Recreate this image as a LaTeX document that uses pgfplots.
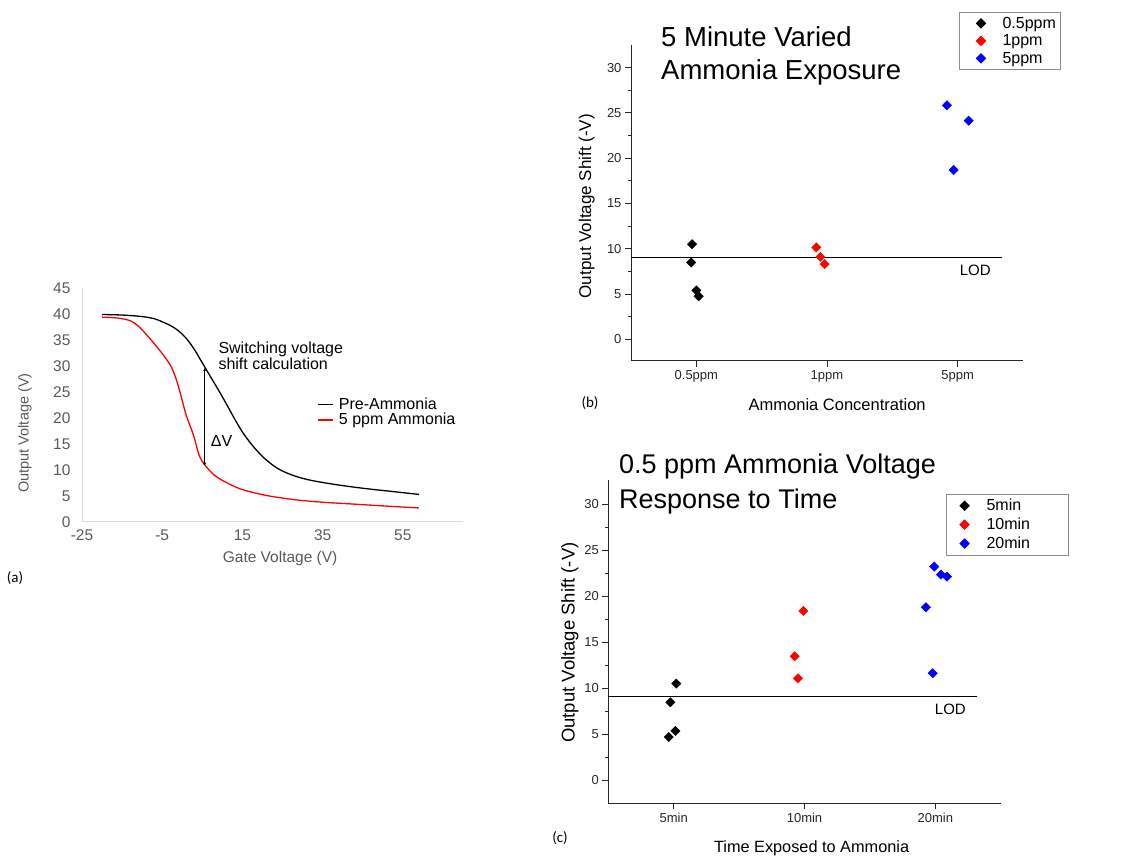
\documentclass[border=0pt]{standalone}
\usepackage{fontspec}
\setmainfont{Liberation Sans}
\newfontfamily\carlito{Carlito}
\usepackage{pgfplots}
\pgfplotsset{compat=1.18}
\usetikzlibrary{arrows.meta}
\definecolor{axgray}{HTML}{D9D9D9}
\definecolor{txtgray}{HTML}{595959}
\definecolor{myred}{HTML}{FF0000}
\definecolor{myblue}{HTML}{0000FF}
\pgfplotsset{
  scat/.style={
    scale only axis, anchor=south west,
    xmin=-0.5, xmax=2.5,
    axis x line*=bottom, axis y line*=left,
    axis line style={-, line width=1pt, black!85},
    xtick={0,1,2},
    ytick={0,5,10,15,20,25,30}, yticklabels={0,5,10,15,20,25,30},
    minor y tick num=1,
    tick align=outside, major tick length=6pt, minor tick length=3.5pt,
    every tick/.style={black!85, line width=0.8pt},
    tick label style={font=\fontsize{13}{15}\selectfont, text=black!85},
    clip=false,
    legend cell align=left,
  },
  dia/.style={only marks, mark=square*, mark size=3.3pt, mark options={rotate=45, draw=#1, fill=#1}},
}
\begin{document}
\begin{tikzpicture}[x=1pt,y=1pt]
\useasboundingbox (0pt,0pt) rectangle (1144pt,867pt);

% ---------------- panel (a) ----------------
\begin{axis}[
  at={(82pt,345pt)}, anchor=south west, scale only axis,
  width=381pt, height=234pt,
  xmin=-25, xmax=70, ymin=0, ymax=45,
  axis x line*=bottom, axis y line*=left,
  axis line style={-, axgray, line width=1pt},
  xtick={-25,-5,15,35,55}, xticklabels={-25,-5,15,35,55},
  ytick={0,5,10,15,20,25,30,35,40,45}, yticklabels={0,5,10,15,20,25,30,35,40,45},
  major tick length=0pt,
  tick label style={font=\fontsize{15.5}{17}\selectfont, text=txtgray},
  yticklabel style={xshift=-8pt},
  xticklabel style={yshift=-4pt},
  xlabel={Gate Voltage (V)},
  xlabel style={at={(axis description cs:0.52,-0.154)}, anchor=center, font=\fontsize{15.5}{17}\selectfont, text=txtgray},
  ylabel={Output Voltage (V)},
  ylabel style={at={(axis description cs:-0.15,0.38)}, anchor=center, font=\fontsize{14.5}{17}\selectfont, text=txtgray},
  legend style={draw=none, fill=none, at={(axis description cs:0.617,0.534)}, anchor=north west,
    font=\fontsize{16}{18}\selectfont, inner sep=0pt, nodes={inner xsep=2pt, inner ysep=1pt}},
  legend cell align=left,
  legend image code/.code={\draw[#1, line width=1.3pt] (0pt,0pt) -- (15pt,0pt); \path[draw=none,fill=none] (0pt,0pt) -- (19pt,0pt);},
  clip=false,
]
\addplot[black, line width=1.3pt, smooth, tension=0.6] coordinates {
(-20,39.9)(-15,39.8)(-10,39.5)(-7,39.1)(-5,38.5)(-3,37.8)(-1,36.8)(1,35.3)(3,33.2)(5,30.6)(7,28.0)(9,25.4)(11,22.7)(13,19.9)(15,17.3)(17,15.2)(19,13.4)(21,11.9)(24,10.2)(27.5,9.0)(31,8.2)(35,7.6)(40,7.0)(46,6.4)(52,5.9)(59,5.3)};
\addlegendentry{Pre-Ammonia}
\addplot[myred, line width=1.3pt, smooth, tension=0.6] coordinates {
(-20,39.4)(-16,39.2)(-13,38.7)(-11,37.7)(-9,36.1)(-7,34.3)(-5,32.4)(-3,30.2)(-2,28.5)(-1,26.2)(0,23.3)(1,20.5)(2,18.4)(3,16.2)(4,13.3)(5,11.6)(6,10.6)(8,9.0)(10,8.0)(12,7.2)(14.3,6.4)(17,5.8)(21,5.1)(25,4.6)(29,4.2)(35,3.8)(41.5,3.5)(50,3.1)(59,2.7)};
\addlegendentry{5 ppm Ammonia}
\draw[black, line width=1pt, {Stealth[length=3pt,width=3pt]}-{Stealth[length=3pt,width=3pt]}] (axis cs:5.6,29.6) -- (axis cs:5.6,10.9);
\end{axis}
\node[anchor=base west, font=\fontsize{16}{17}\selectfont, inner sep=0pt] at (218.3pt,513.7pt) {Switching voltage};
\node[anchor=base west, font=\fontsize{16}{17}\selectfont, inner sep=0pt] at (218.3pt,497pt) {shift calculation};
\node[anchor=base west, font=\fontsize{16}{17}\selectfont, inner sep=0pt] at (210.7pt,420.3pt) {ΔV};
\node[anchor=center, font=\carlito\fontsize{15}{17}\selectfont, inner sep=0pt] at (15pt,289pt) {(a)};

% ---------------- panel (b) ----------------
\begin{axis}[scat,
  at={(631pt,506pt)}, width=392pt, height=316pt,
  ymin=-2.4, ymax=32.5,
  xticklabels={0.5ppm,1ppm,5ppm},
  xlabel={Ammonia Concentration},
  xlabel style={at={(axis description cs:0.526,-0.139)}, anchor=center, font=\fontsize{16.5}{18}\selectfont},
  ylabel={Output Voltage Shift (-V)},
  ylabel style={at={(axis description cs:-0.113,0.49)}, anchor=center, font=\fontsize{17}{19}\selectfont},
  legend style={at={(axis description cs:0.837,1.104)}, anchor=north west, draw=black!45, line width=0.8pt,
    font=\fontsize{16}{18}\selectfont, inner xsep=1pt, inner ysep=2pt, nodes={inner xsep=1pt, inner ysep=2.5pt}},
  legend image code/.code={\path[draw=none,fill=none] (0pt,0pt) -- (41pt,0pt); \path[#1, draw=none] plot coordinates {(20.5pt,0pt)};},
]
\addplot[dia=black] coordinates {(-0.033,10.5)(-0.04,8.48)(0,5.4)(0.018,4.75)};
\addlegendentry{\makebox[56pt][l]{0.5ppm}}
\addplot[dia=myred] coordinates {(0.918,10.14)(0.949,9.1)(0.982,8.3)};
\addlegendentry{\makebox[56pt][l]{1ppm}}
\addplot[dia=myblue] coordinates {(1.918,25.84)(2.084,24.14)(1.969,18.69)};
\addlegendentry{\makebox[56pt][l]{5ppm}}
\addplot[black, line width=1.3pt, forget plot] coordinates {(-0.5,9.0)(2.34,9.0)};
\node[anchor=center, font=\fontsize{15}{17}\selectfont] at (axis cs:2.135,7.56) {LOD};
\end{axis}
\node[anchor=base west, font=\fontsize{27.5}{33}\selectfont, inner sep=0pt] at (661pt,820.3pt) {5 Minute Varied};
\node[anchor=base west, font=\fontsize{27.5}{33}\selectfont, inner sep=0pt] at (661pt,787pt) {Ammonia Exposure};
\node[anchor=center, font=\carlito\fontsize{15}{17}\selectfont, inner sep=0pt] at (590pt,464pt) {(b)};

% ---------------- panel (c) ----------------
\begin{axis}[scat,
  at={(608.3pt,63.7pt)}, width=392.4pt, height=323.3pt,
  ymin=-2.5, ymax=32.6,
  xticklabels={5min,10min,20min},
  xlabel={Time Exposed to Ammonia},
  xlabel style={at={(axis description cs:0.518,-0.139)}, anchor=center, font=\fontsize{16.3}{18}\selectfont},
  ylabel={Output Voltage Shift (-V)},
  ylabel style={at={(axis description cs:-0.098,0.497)}, anchor=center, font=\fontsize{18.5}{20}\selectfont},
  legend style={at={(axis description cs:0.861,0.957)}, anchor=north west, draw=black!45, line width=0.8pt,
    font=\fontsize{16}{18}\selectfont, inner xsep=1pt, inner ysep=2pt, nodes={inner xsep=1pt, inner ysep=2.9pt}},
  legend image code/.code={\path[draw=none,fill=none] (0pt,0pt) -- (38pt,0pt); \path[#1, draw=none] plot coordinates {(17pt,0pt)};},
]
\addplot[dia=black] coordinates {(0.02,10.5)(-0.026,8.47)(0.013,5.36)(-0.038,4.7)};
\addlegendentry{\makebox[80pt][l]{5min}}
\addplot[dia=myred] coordinates {(0.991,18.39)(0.925,13.46)(0.95,11.07)};
\addlegendentry{\makebox[80pt][l]{10min}}
\addplot[dia=myblue] coordinates {(1.992,23.2)(2.043,22.33)(2.089,22.11)(1.928,18.78)(1.98,11.62)};
\addlegendentry{\makebox[80pt][l]{20min}}
\addplot[black, line width=1.3pt, forget plot] coordinates {(-0.5,9.12)(2.32,9.12)};
\node[anchor=center, font=\fontsize{15}{17}\selectfont] at (axis cs:2.115,7.7) {LOD};
\end{axis}
\node[anchor=base west, font=\fontsize{27}{33}\selectfont, inner sep=0pt] at (619pt,393pt) {0.5 ppm Ammonia Voltage};
\node[anchor=base west, font=\fontsize{27}{33}\selectfont, inner sep=0pt] at (619pt,358.7pt) {Response to Time};
\node[anchor=center, font=\carlito\fontsize{15}{17}\selectfont, inner sep=0pt] at (560pt,29pt) {(c)};
\end{tikzpicture}
\end{document}
